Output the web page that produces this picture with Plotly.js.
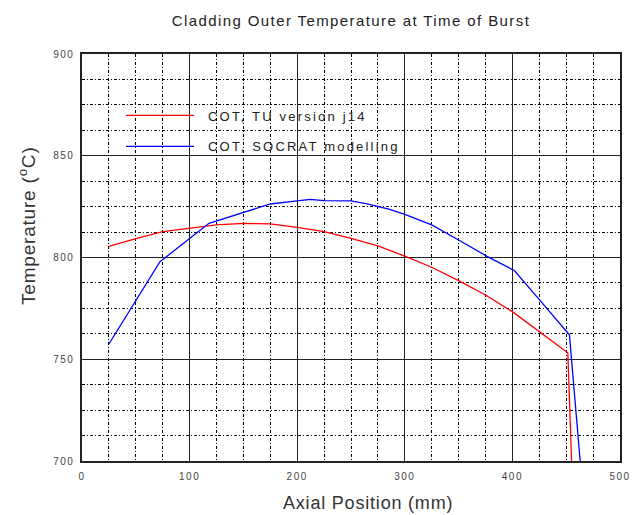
<!DOCTYPE html>
<html>
<head>
<meta charset="utf-8">
<script src="https://cdn.plot.ly/plotly-3.0.1.min.js"></script>
<style>
  html, body { margin: 0; padding: 0; background: #fff; }
  #chart { width: 638px; height: 515px; }
  .gtitle { letter-spacing: 1.4px; }
  .xtick text, .ytick text { letter-spacing: 1.5px; }
  .legendtext { letter-spacing: 2.2px; }
  .annotation-text { letter-spacing: 0.8px; }
</style>
</head>
<body>
<div id="chart"></div>
<script>
// Reference data
var tuX = [25, 50, 75, 100, 125, 150, 175, 200, 225, 250, 275, 300, 325, 350, 375, 400, 425, 451.5, 455];
var tuY = [805.5, 809.3, 812.7, 814.5, 816, 816.8, 816.5, 814.8, 812.7, 809.4, 805.7, 800.7, 795.2, 788.6, 781.6, 773.4, 763.5, 753.2, 700];

var socX = [25, 72.5, 118, 158, 175, 200, 212, 225, 250, 265, 286, 300, 325, 350, 376, 402, 415, 432, 450.5, 453, 463];
var socY = [757.5, 797.9, 816.8, 823.7, 826.3, 827.8, 828.6, 827.9, 827.8, 826.3, 823.7, 821.2, 816, 808.6, 800.7, 793.5, 785.7, 775, 763.5, 762, 700];

var seriesNames = ['COT, TU version j14', 'COT, SOCRAT modelling'];
var seriesColors = ['#ff0000', '#0000ff'];

var chartTitle = 'Cladding Outer Temperature at Time of Burst';
var xTitle = 'Axial Position (mm)';
var yTitle = 'Temperature (<sup>o</sup>C)';

var FONT = 'Arial, "Liberation Sans", sans-serif';

var traces = [
  {x: tuX, y: tuY, type: 'scatter', mode: 'lines', name: seriesNames[0],
   line: {color: seriesColors[0], width: 1.3}, legendgroup: 'tu'},
  {x: socX, y: socY, type: 'scatter', mode: 'lines', name: seriesNames[1],
   line: {color: seriesColors[1], width: 1.3}, legendgroup: 'socrat'}
];

var gridDash = '3px,2px,1px,2px';

var layout = {
  width: 638, height: 515,
  margin: {l: 82, r: 18, t: 54, b: 54},
  paper_bgcolor: '#fff', plot_bgcolor: '#fff',
  title: {
    text: chartTitle,
    font: {family: FONT, size: 15, color: '#222'},
    x: 0.5, xref: 'paper', xanchor: 'center',
    y: 1 - 21 / 515, yref: 'container', yanchor: 'middle'
  },
  xaxis: {
    range: [0, 500], tick0: 0, dtick: 100,
    showgrid: true, gridcolor: '#222', gridwidth: 1.3,
    zeroline: false, showline: true, linecolor: '#222', linewidth: 1.6, mirror: true,
    ticks: '', tickfont: {family: FONT, size: 10, color: '#444'},
    ticklabelstandoff: 5,
    minor: {dtick: 25, tick0: 0, showgrid: true, gridcolor: '#000', gridwidth: 1, griddash: gridDash}
  },
  yaxis: {
    range: [700, 900], tick0: 700, dtick: 50,
    showgrid: true, gridcolor: '#222', gridwidth: 1.3,
    zeroline: false, showline: true, linecolor: '#222', linewidth: 1.6, mirror: true,
    ticks: '', tickfont: {family: FONT, size: 10, color: '#444'},
    ticklabelstandoff: 4,
    minor: {dtick: 12.5, tick0: 700, showgrid: true, gridcolor: '#000', gridwidth: 1, griddash: gridDash}
  },
  legend: {
    x: 0.0725, y: (461 - 131) / 407, xanchor: 'left', yanchor: 'middle',
    bgcolor: 'rgba(0,0,0,0)', borderwidth: 0,
    itemwidth: 68, tracegroupgap: 11, traceorder: 'grouped',
    font: {family: FONT, size: 13, color: '#222'}
  },
  annotations: [
    {text: xTitle, xref: 'paper', yref: 'paper', x: (368 - 82) / 538, y: (461 - 503) / 407,
     xanchor: 'center', yanchor: 'middle', showarrow: false,
     font: {family: FONT, size: 18, color: '#333'}},
    {text: yTitle, xref: 'paper', yref: 'paper', x: (27 - 82) / 538, y: (461 - 226) / 407,
     xanchor: 'center', yanchor: 'middle', showarrow: false, textangle: -90,
     font: {family: FONT, size: 19, color: '#333'}}
  ],
  showlegend: true
};

var gdEl = document.getElementById('chart');

function fixLegendText() {
  // reference legend: wide letter spacing and a ~14px gap after the legend line
  document.querySelectorAll('text.legendtext').forEach(function (t) {
    t.style.letterSpacing = '2.2px';
    if (!t.hasAttribute('data-x0')) {
      t.setAttribute('data-x0', t.getAttribute('x') || '0');
    }
    var x0 = parseFloat(t.getAttribute('data-x0')) || 0;
    t.setAttribute('x', x0 + 9);
  });
  document.querySelectorAll('.scrollbox').forEach(function (s) {
    s.removeAttribute('clip-path');
  });
}

Plotly.newPlot(gdEl, traces, layout, {displayModeBar: false, staticPlot: true}).then(function (gd) {
  gd.on('plotly_afterplot', fixLegendText);
  fixLegendText();
  setTimeout(fixLegendText, 0);
  setTimeout(fixLegendText, 50);
});
</script>
</body>
</html>
